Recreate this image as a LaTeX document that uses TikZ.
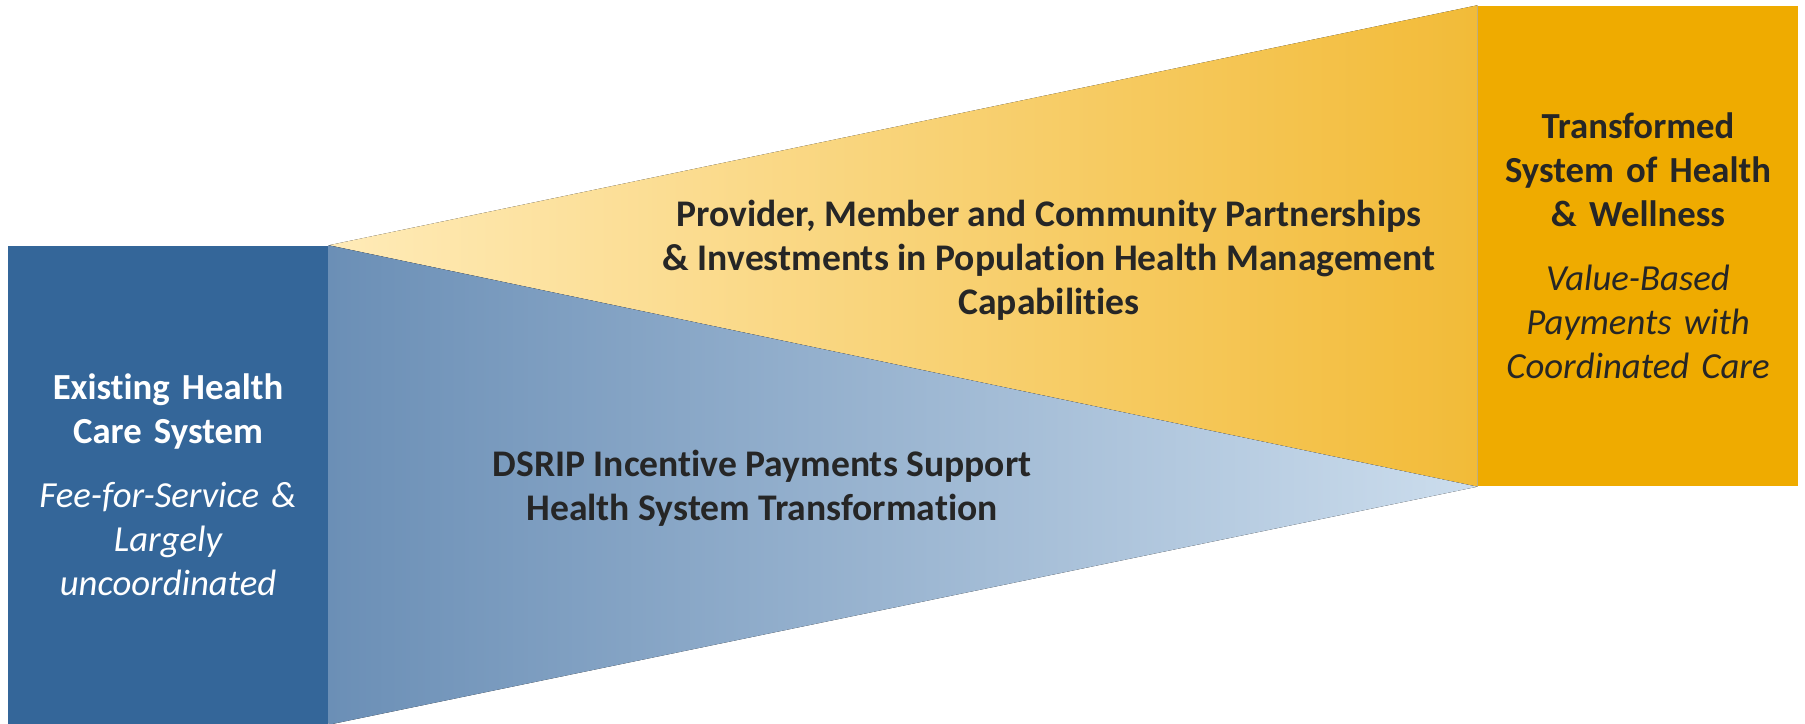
\documentclass[tikz,border=0pt]{standalone}
\usepackage{fontspec}
\setmainfont{Carlito}[Ligatures=NoCommon]
\usepackage{xcolor}
\usetikzlibrary{positioning}

\definecolor{oldblue}{HTML}{346699}
\definecolor{newgold}{HTML}{EFAB00}
\definecolor{paleyellow}{HTML}{FFEBB8}
\definecolor{deepyellow}{HTML}{F2BB38}
\definecolor{midblue}{HTML}{6B8FB6}
\definecolor{paleblue}{HTML}{CCDDED}
\definecolor{textdark}{HTML}{262626}

\begin{document}
\begin{tikzpicture}[
            x=0.1mm, y=-0.1mm,
            block/.style={inner sep=0pt, minimum width=32mm, text width=30mm, align=center,
                font=\fontsize{10.45}{12.5}\selectfont},
            caption/.style={inner sep=0pt, align=center, text=textdark,
                font=\bfseries\fontsize{10.7}{12.5}\selectfont}
        ]
        \useasboundingbox (0,0) rectangle (1805,724);

        % End states (manual layout to match figure)
        \node[block, fill=oldblue, text=white, minimum height=47.8mm] (old) at (168, 485)
            {{\bfseries Existing Health\\ Care System}\\[2mm]
             {\itshape Fee-for-Service \&\\ Largely\\ uncoordinated}};
        \node[block, fill=newgold, text=textdark, minimum height=48mm] (new) at (1638, 246)
            {{\bfseries Transformed\\ System of Health\\ \& Wellness}\\[2mm]
             {\itshape Value-Based\\ Payments with\\ Coordinated Care}};

        % Wedges
        \fill[left color=paleyellow, right color=deepyellow]
            (old.north east) -- (new.north west) -- (new.south west) -- cycle;
        \fill[left color=midblue, right color=paleblue]
            (old.north east) -- (new.south west) -- (old.south east) -- cycle;

        % Labels
        \node[caption] (partners) at (1049, 260)
            {Provider, Member and Community Partnerships\\
             \& Investments in Population Health Management\\
             Capabilities};
        \node[caption] (dsrip) at (762, 488)
            {DSRIP Incentive Payments Support\\
             Health System Transformation};

    \end{tikzpicture}
\end{document}
